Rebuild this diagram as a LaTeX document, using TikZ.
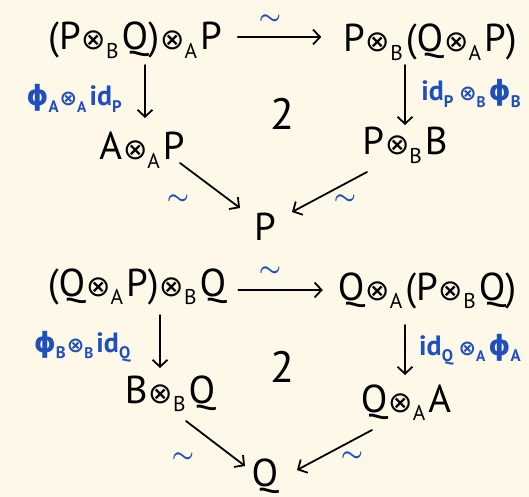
\documentclass[tikz,border=0pt]{standalone}
\usepackage{amsmath}
\usepackage{fontspec}
\setmainfont{PT Sans}
\newfontfamily\symf{DejaVu Sans}
\usetikzlibrary{arrows.meta}
\definecolor{cream}{HTML}{FDF8E8}
\definecolor{hblue}{HTML}{1F4FBF}
\newcommand{\ot}[1]{\kern1pt\raisebox{0.0em}{\scalebox{0.75}{\symf ⊗}}\kern0pt\raisebox{-0.22em}{\scalebox{0.55}{#1}}\kern3pt}
\newcommand{\sbs}[1]{\raisebox{-0.25em}{\scalebox{0.6}{#1}}}
\newcommand{\phibl}{{\symf ϕ}}
\begin{document}
\begin{tikzpicture}[x=1bp,y=-1bp,
  obj/.style={font=\fontsize{39}{40}\selectfont, inner sep=0bp, outer sep=0bp, anchor=base},
  lab/.style={font=\bfseries\fontsize{28}{30}\selectfont, text=hblue, inner sep=0bp, anchor=base},
  tld/.style={font=\fontsize{32}{32}\selectfont, text=hblue, inner sep=0bp},
  arr/.style={line width=1.8pt, line cap=round, -{Straight Barb[length=7pt,width=15pt,line width=1.8pt]}},
  cell/.style={font=\fontsize{44}{44}\selectfont, inner sep=0bp, anchor=base}]
\fill[cream] (0,0) rectangle (529,497);
\useasboundingbox (0,0) rectangle (529,497);
% top square
\node[obj] (tl) at (135,50) {(P\ot{B}Q)\ot{A}P};
\node[obj] (tr) at (430,52) {P\ot{B}(Q\ot{A}P)};
\node[obj] (al) at (142,160) {A\ot{A}P};
\node[obj] (pb) at (405,155) {P\ot{B}B};
\node[obj] (p) at (265,240) {P};
\node[tld] (t1) at (270,20) {$\boldsymbol{\sim}$};
\node[lab] (l1) at (74,106) {\phibl\sbs{A}\ot{A}id\sbs{P}};
\node[lab] (l2) at (471,101) {id\sbs{P}\,\ot{B}\phibl\sbs{B}};
\node[cell] (c1) at (282,130) {2};
\node[tld] (t2) at (178,200) {$\boldsymbol{\sim}$};
\node[tld] (t3) at (345,200) {$\boldsymbol{\sim}$};
\draw[arr] ([xshift=16bp,yshift=13bp]tl.base east) -- ([xshift=-22bp,yshift=15bp]tr.base west);
\draw[arr] ([xshift=10bp,yshift=-15bp]tl.base) -- ([xshift=3bp,yshift=42bp]al.base);
\draw[arr] ([xshift=-25bp,yshift=-13bp]tr.base) -- ([yshift=30bp]pb.base);
\draw[arr] ([xshift=38bp,yshift=-3bp]al.base) -- ([xshift=-25bp,yshift=32bp]p.base);
\draw[arr] ([xshift=-38bp,yshift=-17bp]pb.base) -- ([xshift=27bp,yshift=28bp]p.base);
% bottom square
\node[obj] (bl) at (137,296) {(Q\ot{A}P)\ot{B}Q};
\node[obj] (br) at (427,300) {Q\ot{A}(P\ot{B}Q)};
\node[obj] (bb) at (170,403) {B\ot{B}Q};
\node[obj] (qa) at (406,412) {Q\ot{A}A};
\node[obj] (q) at (265,486) {Q};
\node[tld] (t4) at (270,272) {$\boldsymbol{\sim}$};
\node[lab] (l3) at (82,352) {\phibl\sbs{B}\ot{B}id\sbs{Q}};
\node[lab] (l4) at (470,355) {id\sbs{Q}\,\ot{A}\phibl\sbs{A}};
\node[cell] (c2) at (282,382) {2};
\node[tld] (t5) at (183,458) {$\boldsymbol{\sim}$};
\node[tld] (t6) at (352,457) {$\boldsymbol{\sim}$};
\draw[arr] ([xshift=12bp,yshift=6bp]bl.base east) -- ([xshift=-15bp,yshift=10bp]br.base west);
\draw[arr] ([xshift=23bp,yshift=-19bp]bl.base) -- ([xshift=-10bp,yshift=35bp]bb.base);
\draw[arr] ([xshift=-22bp,yshift=-25bp]br.base) -- ([xshift=-1bp,yshift=37bp]qa.base);
\draw[arr] ([xshift=16bp,yshift=-18bp]bb.base) -- ([xshift=-20bp,yshift=20bp]q.base);
\draw[arr] ([xshift=-34bp,yshift=-18bp]qa.base) -- ([xshift=32bp,yshift=16bp]q.base);
\end{tikzpicture}
\end{document}
